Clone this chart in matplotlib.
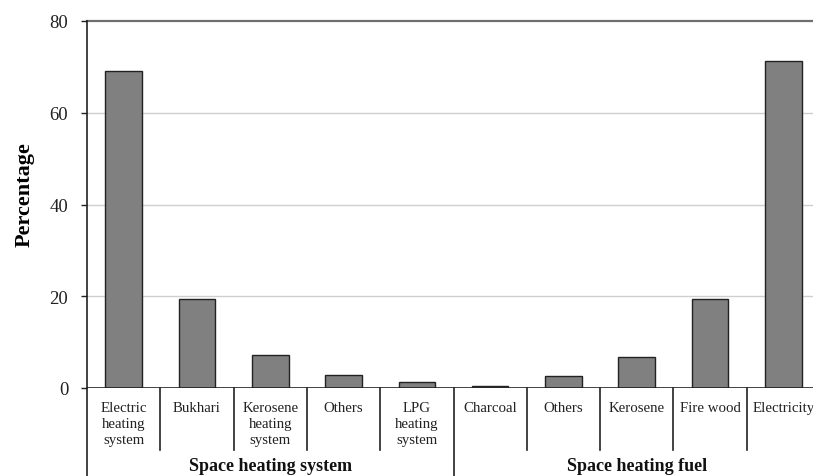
import matplotlib.pyplot as plt
import numpy as np

plt.rcParams['font.family'] = ['Liberation Serif', 'DejaVu Serif']

# data
system_labels = ["Electric\nheating\nsystem", "Bukhari", "Kerosene\nheating\nsystem", "Others", "LPG\nheating\nsystem"]
system_values = [69.1, 19.4, 7.3, 2.9, 1.2]
fuel_labels = ["Charcoal", "Others", "Kerosene", "Fire wood", "Electricity"]
fuel_values = [0.4, 2.6, 6.8, 19.3, 71.3]
groups = ["Space heating system", "Space heating fuel"]

labels = system_labels + fuel_labels
values = system_values + fuel_values
x = np.arange(len(values))

fig = plt.figure(figsize=(8.13, 4.77), dpi=100)
ax = fig.add_axes([87/813, 1 - 389/477, 733/813, 367/477])

ax.bar(x, values, width=0.5, color="#808080", edgecolor="#222222", linewidth=1.0, zorder=3)

ax.set_xlim(-0.5, len(values) - 0.5)
ax.set_ylim(0, 80)
ax.set_yticks([0, 20, 40, 60, 80])
for yv in [20, 40, 60]:
    ax.axhline(yv, color="#cfcfcf", linewidth=1.0, zorder=1)
ax.axhline(80, color="#6e6e6e", linewidth=1.6, zorder=1, clip_on=False)
ax.axhline(0, color="#222222", linewidth=1.2, zorder=4)

for s in ["top", "right", "bottom"]:
    ax.spines[s].set_visible(False)
ax.spines["left"].set_color("#222222")
ax.spines["left"].set_linewidth(1.2)

ax.set_xticks([])
ax.tick_params(axis="y", direction="out", length=4, width=1, pad=9.5,
               labelsize=13.5, colors="#222222")
ax.set_ylabel("Percentage", fontsize=16, fontweight="bold")
ax.yaxis.set_label_coords(-0.071, 0.53)

trans = ax.get_xaxis_transform()
# separators below the axis
for i in range(len(values) + 1):
    b = i - 0.5
    if i % 5 == 0:
        ax.plot([b, b], [0, -0.24], transform=trans, color="#222222", lw=1.2, clip_on=False)
    else:
        ax.plot([b, b], [0, -0.168], transform=trans, color="#222222", lw=1.2, clip_on=False)

for xi, lab in zip(x, labels):
    ax.text(xi, -0.035, lab, transform=trans, ha="center", va="top",
            fontsize=10.7, linespacing=1.3, color="#222222")

for gi, g in enumerate(groups):
    ax.text(gi * 5 + 2, -0.212, g, transform=trans, ha="center", va="center",
            fontsize=13, fontweight="bold", color="#111111")

fig.savefig("out.png", dpi=100)
